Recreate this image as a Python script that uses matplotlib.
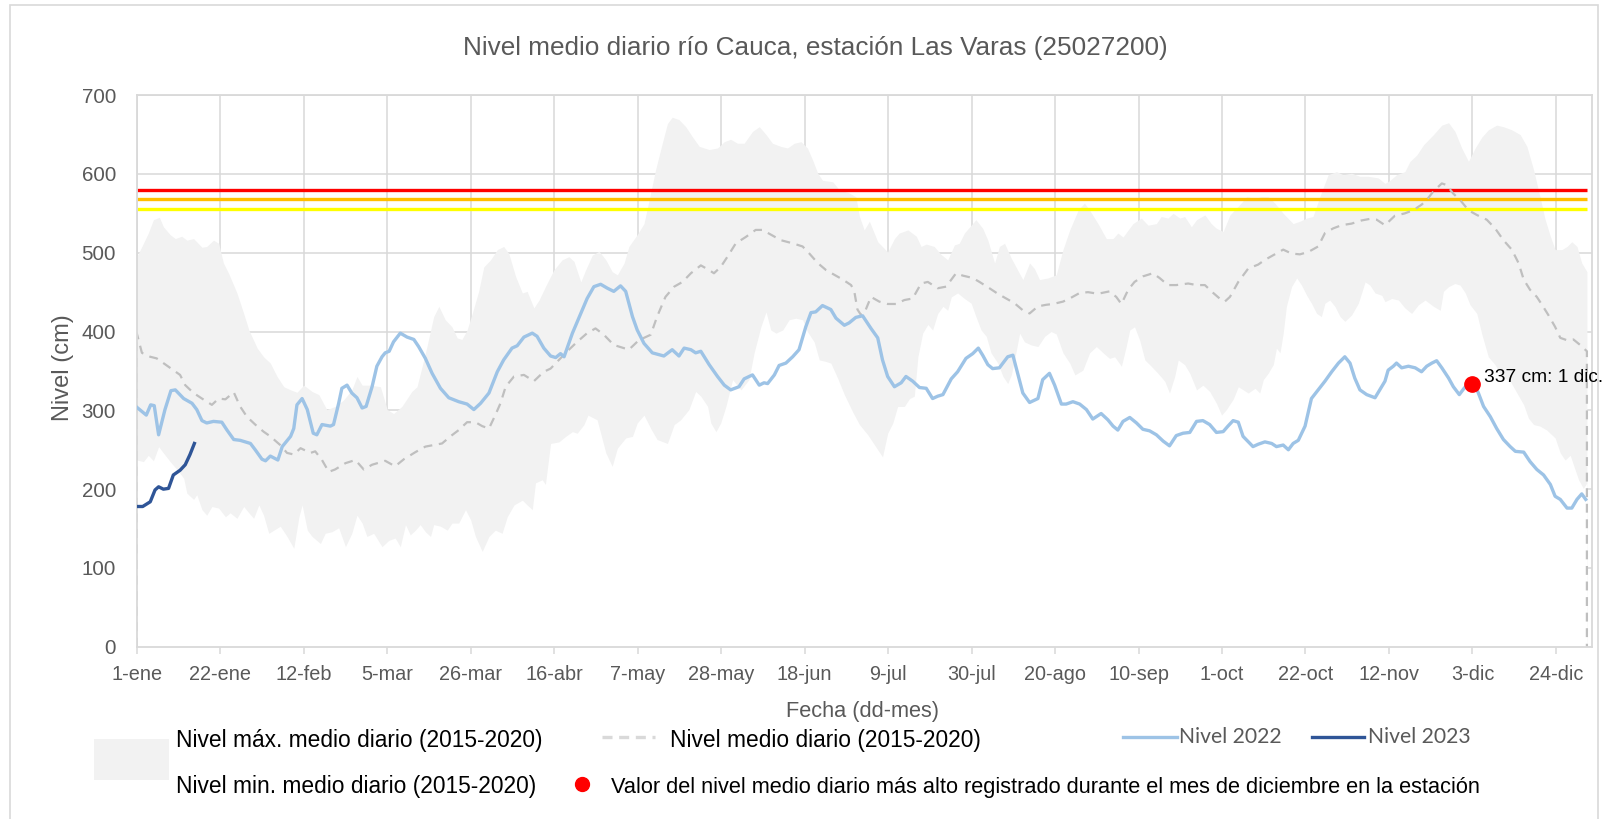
import numpy as np
import matplotlib
matplotlib.use("Agg")
import matplotlib.pyplot as plt
from matplotlib.lines import Line2D
from matplotlib.patches import Rectangle

plt.rcParams['font.family'] = ['Liberation Sans', 'DejaVu Sans']

# días desde el 1-ene y niveles (cm)
nivel_2022_dias = [0, 2.4, 3.5, 4.4, 5.5, 7.1, 8.6, 9.7, 11.8, 13.9, 15.1, 16.4, 17.6, 19.3, 21.4, 22.7, 24.4, 26.0, 28.6, 29.8,
                   31.5, 32.4, 33.6, 35.5, 36.6, 38.7, 39.5, 40.3, 41.6, 42.9, 44.4, 45.3, 46.6, 48.7, 49.5, 50.8, 51.6, 52.9, 54.1, 55.4,
                   56.7, 57.7, 59.2, 60.4, 61.7, 62.5, 63.5, 64.6, 66.3, 68.0, 69.7, 70.9, 72.6, 74.3, 76.4, 78.5, 81.0, 83.1, 84.8, 86.5,
                   88.6, 90.7, 92.3, 94.4, 95.7, 97.4, 99.5, 100.7, 102.4, 104.1, 105.4, 106.6, 107.5, 109.6, 111.7, 113.3, 115.0, 116.7, 118.4, 120.0,
                   121.7, 123.0, 124.7, 125.9, 127.6, 129.7, 132.6, 134.7, 136.4, 137.7, 139.4, 140.6, 141.9, 144.0, 146.1, 147.8, 149.4, 151.5, 152.8, 154.9,
                   156.6, 157.8, 158.7, 160.4, 161.6, 163.3, 165.0, 166.6, 168.3, 169.6, 170.8, 172.5, 173.8, 174.6, 175.9, 178.0, 179.2, 180.9, 182.6, 184.7,
                   186.4, 187.6, 188.9, 190.6, 192.3, 193.5, 195.2, 196.9, 198.6, 200.2, 201.5, 202.8, 204.9, 206.5, 208.6, 210.3, 211.7, 212.8, 214.1, 215.3,
                   217.0, 219.1, 220.4, 221.6, 222.9, 224.6, 226.7, 227.9, 229.6, 230.9, 232.6, 233.8, 235.5, 237.2, 238.9, 240.5, 242.6, 244.3, 245.6, 246.8,
                   248.1, 249.8, 251.5, 253.1, 254.8, 256.5, 258.2, 259.8, 261.5, 263.2, 264.9, 266.6, 268.2, 269.9, 271.6, 273.3, 274.5, 275.8, 277.1, 278.3,
                   280.8, 282.1, 283.8, 285.5, 286.7, 288.4, 289.7, 290.9, 292.2, 293.9, 295.5, 297.2, 298.9, 300.6, 302.3, 303.9, 305.2, 306.4, 307.7, 309.4,
                   311.5, 312.7, 314.0, 314.8, 316.1, 316.9, 318.2, 319.9, 321.6, 323.2, 324.5, 325.8, 327.0, 328.3, 330.0, 331.2, 332.7, 333.9, 335.0, 336.4,
                   337.5, 338.8, 340.5, 342.1, 343.8, 345.5, 346.8, 348.9, 350.5, 352.2, 353.9, 355.6, 356.8, 358.1, 359.8, 361.0, 362.3, 363.5, 364.5]
nivel_2022 = [304, 294, 307, 306, 269, 301, 325, 326, 315, 309, 301, 287, 284, 286, 285, 275, 263, 262, 258, 250,
              238, 236, 242, 237, 254, 267, 277, 307, 315, 301, 271, 269, 282, 280, 282, 309, 328, 332, 322, 316,
              303, 305, 330, 356, 368, 373, 375, 387, 398, 393, 390, 381, 366, 347, 328, 316, 311, 308, 301, 309,
              322, 349, 364, 379, 382, 393, 398, 394, 379, 369, 367, 372, 368, 398, 423, 442, 457, 460, 455, 451,
              458, 451, 419, 402, 385, 373, 369, 377, 369, 379, 377, 373, 375, 358, 343, 332, 326, 330, 340, 345,
              332, 335, 334, 345, 357, 360, 368, 377, 406, 424, 425, 433, 430, 428, 417, 408, 411, 418, 420, 404,
              392, 364, 343, 330, 335, 343, 337, 329, 328, 315, 318, 320, 340, 349, 366, 372, 379, 370, 358, 353,
              354, 368, 370, 347, 322, 310, 315, 339, 347, 332, 308, 308, 311, 308, 301, 289, 296, 288, 280, 275,
              286, 291, 284, 276, 274, 269, 261, 255, 268, 271, 272, 286, 287, 282, 272, 273, 280, 287, 285, 267,
              254, 257, 260, 258, 254, 256, 250, 258, 262, 280, 315, 326, 337, 349, 360, 368, 360, 341, 326, 320,
              316, 326, 337, 351, 356, 360, 354, 356, 354, 349, 356, 360, 363, 354, 341, 330, 320, 328, 334, 334,
              322, 305, 292, 277, 263, 254, 248, 247, 235, 225, 218, 206, 191, 187, 176, 176, 187, 194, 187]

nivel_2023_dias = [0, 1.5, 3.4, 4.6, 5.5, 6.7, 8.0, 9.2, 10.9, 12.2, 13.4, 14.5]
nivel_2023 = [178, 178, 184, 199, 203, 200, 201, 218, 224, 231, 244, 258]

max_dias = [0, 1.3, 2.9, 4.2, 5.7, 6.7, 8.4, 9.7, 11.3, 12.6, 14.3, 16.4, 17.6, 19.3, 20.6, 21.8, 23.1, 25.2, 26.9, 28.2,
            30.3, 31.9, 33.6, 35.3, 37.0, 38.7, 40.3, 42.0, 44.1, 45.8, 47.8, 49.9, 52.0, 54.1, 55.4, 56.7, 58.8, 61.3, 63.0, 64.6,
            66.7, 69.2, 70.5, 71.8, 73.0, 74.7, 76.0, 77.6, 79.3, 80.6, 81.8, 83.1, 84.4, 86.0, 87.3, 89.0, 90.7, 92.3, 93.6, 95.3,
            97.0, 98.2, 99.9, 101.2, 102.8, 104.9, 107.0, 108.7, 110.0, 111.7, 112.9, 114.6, 116.3, 118.0, 119.6, 120.9, 122.6, 123.8, 125.9, 127.6,
            128.9, 130.5, 132.2, 133.5, 134.7, 136.4, 138.1, 139.8, 141.5, 144.0, 146.1, 147.8, 149.4, 151.1, 152.8, 154.9, 156.6, 158.3, 159.9, 162.0,
            163.7, 165.4, 167.1, 168.7, 170.0, 171.3, 172.5, 175.1, 176.7, 179.2, 180.9, 181.8, 183.0, 184.3, 186.4, 188.9, 190.6, 191.8, 194.0, 196.1,
            197.3, 198.6, 200.6, 202.3, 204.0, 205.7, 206.9, 208.2, 209.9, 211.1, 212.8, 214.1, 215.8, 217.0, 218.3, 220.0, 221.6, 222.9, 224.6, 225.8,
            227.1, 229.2, 231.3, 233.0, 234.7, 236.8, 238.4, 239.7, 241.8, 243.9, 245.6, 246.8, 248.1, 250.6, 252.7, 254.4, 256.5, 257.7, 259.4, 260.7,
            262.4, 263.6, 265.3, 266.6, 268.7, 270.3, 271.6, 273.3, 275.0, 277.1, 279.2, 281.3, 282.9, 284.6, 286.3, 288.4, 290.9, 292.6, 294.3, 295.9,
            297.6, 299.7, 301.8, 303.5, 305.6, 307.7, 309.8, 312.3, 314.0, 315.3, 316.9, 319.0, 320.3, 322.0, 323.7, 326.2, 328.3, 330.0, 331.6, 333.3,
            335.0, 336.7, 338.4, 340.0, 342.1, 343.8, 345.9, 348.0, 349.7, 351.4, 353.0, 354.3, 355.6, 356.8, 358.5, 359.8, 361.0, 362.3, 363.5, 364.8]
max_nivel = [495, 508, 525, 542, 545, 533, 523, 518, 521, 516, 518, 507, 508, 516, 512, 487, 474, 449, 423, 402,
             379, 368, 360, 343, 330, 326, 323, 332, 324, 320, 301, 305, 313, 326, 343, 332, 332, 330, 301, 296,
             305, 324, 330, 356, 381, 419, 432, 415, 406, 392, 390, 402, 423, 451, 482, 491, 504, 508, 499, 470,
             449, 451, 430, 440, 457, 478, 491, 495, 489, 463, 478, 497, 502, 491, 476, 472, 487, 508, 523, 537,
             567, 605, 639, 664, 672, 669, 660, 647, 635, 631, 633, 641, 644, 639, 639, 654, 660, 650, 639, 635,
             633, 639, 641, 633, 618, 601, 592, 590, 580, 576, 571, 546, 529, 540, 514, 501, 518, 525, 529, 521,
             508, 511, 508, 498, 491, 510, 512, 525, 535, 542, 531, 516, 487, 508, 512, 493, 478, 466, 487, 480,
             466, 468, 472, 504, 529, 554, 563, 554, 537, 518, 518, 525, 520, 537, 544, 535, 537, 546, 544, 550,
             544, 546, 533, 542, 548, 537, 531, 527, 548, 559, 571, 569, 571, 571, 563, 550, 537, 540, 544, 546,
             571, 599, 603, 599, 601, 597, 597, 595, 588, 592, 599, 603, 616, 624, 637, 650, 662, 665, 654, 633,
             616, 633, 647, 656, 662, 660, 656, 650, 635, 605, 571, 542, 521, 504, 504, 508, 514, 508, 487, 476]

min_dias = [0, 1.7, 2.9, 4.2, 5.5, 6.7, 8.4, 10.1, 11.8, 12.6, 14.3, 15.1, 16.4, 17.6, 18.9, 20.6, 22.3, 23.5, 25.2, 26.9,
            28.2, 29.4, 30.7, 31.9, 33.2, 34.5, 36.1, 37.8, 39.5, 40.8, 41.6, 42.9, 44.1, 46.2, 47.4, 49.1, 50.8, 52.5, 54.1, 55.4,
            56.7, 57.9, 59.6, 61.7, 63.4, 65.0, 66.3, 67.6, 68.8, 70.1, 71.3, 72.6, 73.9, 74.7, 76.4, 78.1, 79.3, 81.0, 82.7, 84.0,
            85.2, 86.9, 88.6, 90.2, 91.9, 93.2, 94.9, 97.0, 98.2, 99.5, 100.3, 102.0, 102.8, 104.1, 106.2, 107.9, 109.6, 110.8, 112.5, 113.5,
            115.8, 116.7, 118.0, 119.6, 120.9, 123.0, 124.7, 125.9, 127.6, 129.3, 130.9, 133.5, 135.2, 136.8, 138.9, 140.6, 141.9, 143.6, 144.4, 145.7,
            146.9, 148.2, 149.9, 152.0, 154.0, 155.3, 157.0, 158.3, 159.5, 160.8, 162.5, 164.1, 165.8, 167.5, 168.7, 170.4, 171.7, 173.4, 174.6, 176.3,
            178.0, 180.1, 181.8, 183.9, 186.4, 187.6, 188.9, 190.2, 191.4, 193.1, 194.4, 195.6, 196.5, 197.7, 199.0, 200.2, 201.5, 202.8, 204.0, 204.9,
            206.5, 208.2, 209.9, 211.1, 212.4, 213.7, 214.9, 216.6, 217.9, 219.1, 220.0, 220.8, 222.1, 223.3, 225.0, 226.7, 228.4, 230.0, 231.3, 233.0,
            234.7, 236.0, 238.0, 239.7, 241.4, 243.1, 244.7, 246.0, 247.7, 248.9, 249.8, 251.0, 252.3, 253.6, 255.2, 256.9, 258.6, 259.8, 261.1, 262.0,
            263.6, 264.9, 266.6, 268.2, 269.9, 271.6, 272.9, 274.1, 275.8, 277.1, 279.6, 281.3, 282.5, 283.4, 284.6, 285.9, 286.7, 287.6, 288.4, 289.2,
            290.5, 291.8, 293.0, 294.3, 295.5, 296.8, 298.0, 298.9, 300.1, 301.4, 302.7, 303.9, 305.6, 307.3, 309.0, 310.2, 311.5, 313.2, 314.0, 315.7,
            317.4, 319.0, 320.7, 322.4, 324.1, 326.2, 327.9, 328.7, 330.0, 331.6, 332.9, 334.2, 335.4, 337.1, 338.4, 340.0, 341.7, 343.4, 345.5, 347.2,
            348.9, 350.1, 351.4, 353.0, 354.7, 356.8, 358.1, 359.3, 360.6, 361.4, 362.7, 363.9, 364.8]
min_nivel = [237, 235, 243, 236, 254, 246, 235, 225, 214, 195, 187, 193, 174, 167, 178, 176, 165, 170, 163, 178,
             170, 163, 180, 167, 144, 148, 153, 140, 125, 165, 180, 148, 140, 131, 144, 146, 151, 127, 144, 167,
             157, 140, 144, 127, 135, 138, 127, 155, 142, 148, 155, 146, 140, 155, 153, 148, 157, 157, 174, 161,
             140, 121, 140, 148, 144, 165, 180, 186, 180, 174, 208, 212, 206, 258, 260, 267, 273, 271, 282, 294,
             288, 271, 246, 229, 252, 265, 267, 284, 294, 277, 263, 258, 282, 288, 301, 324, 318, 305, 284, 273,
             284, 305, 339, 326, 339, 373, 406, 425, 402, 398, 402, 415, 417, 415, 400, 387, 364, 362, 360, 341,
             320, 298, 282, 269, 250, 241, 271, 284, 305, 305, 315, 318, 368, 398, 409, 402, 423, 432, 427, 444,
             449, 442, 436, 419, 402, 394, 373, 360, 343, 334, 345, 364, 398, 387, 383, 381, 394, 400, 397, 373,
             360, 345, 351, 373, 381, 373, 366, 368, 356, 381, 402, 406, 389, 364, 356, 347, 337, 322, 343, 364,
             358, 347, 326, 332, 324, 309, 294, 301, 314, 330, 322, 328, 322, 339, 347, 358, 379, 373, 398, 432,
             457, 468, 459, 446, 436, 423, 419, 436, 440, 432, 419, 413, 421, 436, 463, 459, 449, 446, 438, 442,
             440, 430, 423, 434, 440, 432, 427, 451, 457, 461, 459, 449, 434, 423, 396, 368, 358, 343, 337, 322,
             307, 290, 282, 280, 275, 265, 246, 237, 243, 231, 212, 201, 208]

medio_dias = [0, 0, 1.3, 3.4, 5.0, 6.7, 9.2, 10.9, 12.2, 14.3, 16.4, 18.9, 20.6, 22.3, 24.4, 26.0, 27.7, 29.8, 31.9, 33.6,
              36.1, 37.8, 39.5, 41.2, 43.7, 44.9, 46.6, 48.3, 49.9, 52.5, 55.0, 57.1, 59.2, 62.5, 65.0, 67.2, 70.1, 72.6, 74.7, 76.8,
              78.9, 81.0, 83.1, 85.2, 86.9, 88.6, 90.2, 91.5, 92.8, 94.9, 97.4, 99.9, 102.4, 104.1, 106.2, 108.3, 110.8, 113.3, 115.4, 117.5,
              120.0, 123.8, 126.3, 129.3, 130.9, 133.0, 135.2, 137.3, 139.4, 141.9, 144.0, 145.2, 146.9, 148.6, 150.7, 153.2, 155.7, 157.4, 159.5, 162.0,
              165.0, 167.5, 169.2, 171.3, 173.4, 175.5, 177.6, 179.7, 180.5, 181.3, 182.2, 183.0, 184.7, 186.8, 188.9, 191.0, 193.1, 195.2, 197.3, 199.0,
              201.5, 203.6, 206.1, 207.8, 210.3, 212.0, 214.5, 216.6, 218.7, 220.8, 222.9, 224.6, 226.7, 228.8, 230.5, 233.0, 234.7, 237.2, 239.3, 241.8,
              244.7, 246.4, 247.7, 249.4, 251.0, 253.1, 255.6, 257.3, 259.4, 261.5, 264.5, 266.6, 268.7, 270.8, 272.4, 273.7, 275.0, 277.1, 279.6, 282.1,
              283.8, 285.9, 288.4, 290.5, 292.6, 294.7, 297.2, 298.9, 301.0, 303.1, 305.6, 308.1, 310.2, 311.9, 314.0, 316.5, 319.0, 321.1, 323.2, 324.5,
              326.2, 328.3, 329.5, 331.2, 332.9, 335.0, 337.1, 339.6, 341.7, 343.8, 345.9, 347.6, 348.9, 350.5, 352.2, 353.5, 355.1, 356.8, 358.1, 359.8,
              361.4, 363.1, 364.8, 364.8]
medio_nivel = [0, 398, 373, 368, 366, 360, 351, 345, 332, 322, 315, 307, 315, 314, 323, 305, 292, 282, 273, 267,
               256, 246, 244, 252, 246, 248, 237, 222, 225, 233, 237, 225, 231, 236, 229, 238, 247, 254, 256, 258,
               267, 275, 285, 285, 280, 277, 294, 309, 330, 343, 345, 337, 349, 353, 364, 375, 387, 398, 404, 396,
               383, 377, 389, 396, 419, 444, 457, 463, 474, 484, 478, 474, 482, 495, 512, 520, 529, 529, 523, 516,
               512, 508, 499, 487, 478, 472, 466, 459, 451, 428, 421, 423, 444, 438, 435, 435, 440, 442, 461, 463,
               455, 457, 474, 471, 468, 463, 455, 448, 442, 436, 427, 423, 432, 434, 435, 438, 442, 449, 450, 448,
               451, 444, 435, 453, 463, 470, 474, 468, 459, 459, 461, 459, 459, 449, 442, 438, 444, 463, 480, 485,
               491, 497, 504, 499, 498, 501, 508, 525, 531, 535, 537, 541, 543, 542, 535, 547, 550, 554, 561, 567,
               578, 588, 586, 575, 567, 554, 548, 542, 531, 516, 504, 487, 466, 453, 444, 434, 421, 406, 392, 389,
               390, 383, 375, 0]

# umbrales de alerta (cm)
umbral_rojo = 580
umbral_naranja = 568
umbral_amarillo = 556

# valor más alto de diciembre (el punto está dibujado sobre el 3-dic, como en el original)
punto_dia = 336
punto_nivel = 334
punto_texto = "337 cm: 1 dic."

tick_dias = list(range(0, 358, 21))
tick_etiquetas = ['1-ene', '22-ene', '12-feb', '5-mar', '26-mar', '16-abr', '7-may', '28-may', '18-jun',
                  '9-jul', '30-jul', '20-ago', '10-sep', '1-oct', '22-oct', '12-nov', '3-dic', '24-dic']

GRIS_TXT = '#595959'
GRIS_GRID = '#D9D9D9'
GRIS_AREA = '#F2F2F2'
AZUL_22 = '#9DC3E6'
AZUL_23 = '#2F5597'

fig = plt.figure(figsize=(16.05, 8.19), dpi=100)
ax = fig.add_axes([0.0852, 0.2103, 0.9065, 0.6735])

# área máx (gris) y área mín (blanca) encima, tapan la cuadrícula
ax.fill_between(max_dias, 0, max_nivel, color=GRIS_AREA, lw=0, zorder=1)
ax.fill_between(min_dias, 0, min_nivel, color='white', lw=0, zorder=1.1)

dia_ini, dia_fin = nivel_2022_dias[0], max_dias[-1]
ax.hlines(umbral_rojo, dia_ini, dia_fin, color='#FF0000', lw=2.4, zorder=2)
ax.hlines(umbral_naranja, dia_ini, dia_fin, color='#FFC000', lw=2.4, zorder=2)
ax.hlines(umbral_amarillo, dia_ini, dia_fin, color='#FFFF00', lw=2.4, zorder=2)

ax.plot(medio_dias, medio_nivel, color='#BFBFBF', lw=1.6, ls=(0, (4, 3)), zorder=2.5)
ax.plot(nivel_2022_dias, nivel_2022, color=AZUL_22, lw=2.4, zorder=3, solid_joinstyle='round')
ax.plot(nivel_2023_dias, nivel_2023, color=AZUL_23, lw=2.4, zorder=3, solid_joinstyle='round')

ax.plot(punto_dia, punto_nivel, 'o', color='#FF0000', ms=11, zorder=4)
ax.text(punto_dia + 3, punto_nivel + 8, punto_texto, fontsize=13.8, color='black',
        va='center', ha='left', zorder=5, clip_on=False)

ax.set_xlim(0, 366)
ax.set_ylim(0, 700)
ax.set_xticks(tick_dias)
ax.set_xticklabels(tick_etiquetas)
ax.set_yticks(range(0, 701, 100))
ax.grid(True, color=GRIS_GRID, lw=1.1, zorder=0)
ax.set_axisbelow(True)
for s in ax.spines.values():
    s.set_color(GRIS_GRID)
    s.set_linewidth(1.3)
ax.tick_params(axis='x', colors=GRIS_GRID, length=5, width=1.1, labelcolor=GRIS_TXT,
               labelsize=14.3, pad=8)
ax.tick_params(axis='y', length=0, labelcolor=GRIS_TXT, labelsize=14.8, pad=15)

fig.text(0.508, 0.942, 'Nivel medio diario río Cauca, estación Las Varas (25027200)',
         ha='center', va='center', fontsize=18.8, color=GRIS_TXT)
fig.text(0.039, 1 - 368 / 819, 'Nivel (cm)', rotation=90, ha='center', va='center',
         fontsize=17, color=GRIS_TXT)
fig.text(863 / 1605, 1 - 711 / 819, 'Fecha (dd-mes)', ha='center', va='center',
         fontsize=15.7, color=GRIS_TXT)

# leyenda hecha a mano, como en el original
fig.add_artist(Rectangle((94 / 1605, 1 - 780 / 819), 75 / 1605, 41 / 819,
                         transform=fig.transFigure, color=GRIS_AREA, lw=0))
fig.text(176 / 1605, 1 - 741 / 819, 'Nivel máx. medio diario (2015-2020)', fontsize=16.4, va='center')
fig.text(176 / 1605, 1 - 786 / 819, 'Nivel min. medio diario (2015-2020)', fontsize=16.4, va='center')
fig.add_artist(Line2D([602 / 1605, 655 / 1605], [1 - 737 / 819] * 2, transform=fig.transFigure,
                      color=GRIS_GRID, lw=2.4, ls=(0, (3, 2))))
fig.text(670 / 1605, 1 - 741 / 819, 'Nivel medio diario (2015-2020)', fontsize=16.4, va='center')
fig.add_artist(Line2D([582 / 1605], [1 - 784 / 819], transform=fig.transFigure,
                      marker='o', color='#FF0000', ms=10, lw=0))
fig.text(611 / 1605, 1 - 788 / 819,
         'Valor del nivel medio diario más alto registrado durante el mes de diciembre en la estación',
         fontsize=15.7, va='center')
fig.add_artist(Line2D([1123 / 1605, 1177 / 1605], [1 - 737 / 819] * 2, transform=fig.transFigure,
                      color=AZUL_22, lw=2.4))
fig.text(1179 / 1605, 1 - 737 / 819, 'Nivel 2022', fontsize=15.2, va='center', color=GRIS_TXT,
         family=['Lato', 'DejaVu Sans'])
fig.add_artist(Line2D([1312 / 1605, 1364 / 1605], [1 - 737 / 819] * 2, transform=fig.transFigure,
                      color=AZUL_23, lw=2.4))
fig.text(1368 / 1605, 1 - 737 / 819, 'Nivel 2023', fontsize=15.2, va='center', color=GRIS_TXT,
         family=['Lato', 'DejaVu Sans'])

# marco exterior del gráfico
fig.add_artist(Rectangle((10 / 1605, -0.01), 1588 / 1605, 1.0 - 5 / 819 + 0.01,
                         transform=fig.transFigure, fill=False, ec=GRIS_GRID, lw=1.2))

fig.savefig('out.png', dpi=100)
